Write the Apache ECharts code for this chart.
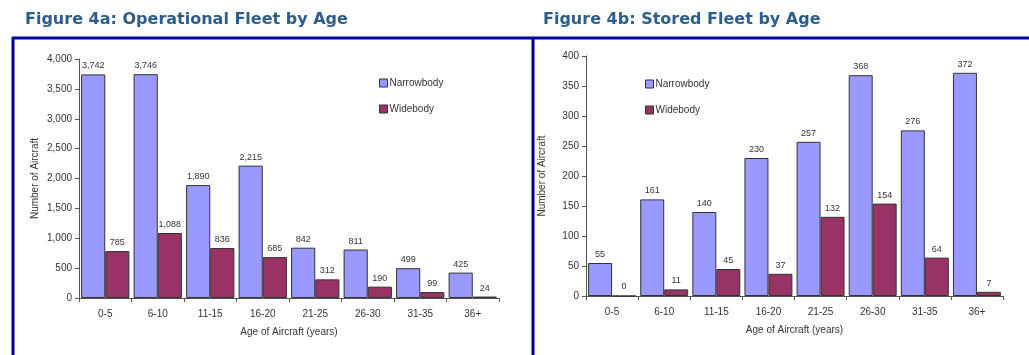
<!DOCTYPE html>
<html>
<head>
<meta charset="utf-8">
<script src="https://cdn.jsdelivr.net/npm/echarts@6/dist/echarts.min.js"></script>
<style>
  html, body { margin: 0; padding: 0; background: #fff; }
  #main { width: 1029px; height: 355px; }
</style>
</head>
<body>
<div id="main"></div>
<script>
// categories (age bands)
var ageBands = ['0-5', '6-10', '11-15', '16-20', '21-25', '26-30', '31-35', '36+'];
// figure 4a - operational fleet
var opNarrow = [3742, 3746, 1890, 2215, 842, 811, 499, 425];
var opWide = [785, 1088, 836, 685, 312, 190, 99, 24];
// figure 4b - stored fleet
var storedNarrow = [55, 161, 140, 230, 257, 368, 276, 372];
var storedWide = [0, 11, 45, 37, 132, 154, 64, 7];

var FONT = '"Liberation Sans", Arial, sans-serif';
var TITLE_FONT = '"DejaVu Sans", Verdana, sans-serif';
var NARROW = '#9999ff';
var WIDE = '#993366';
var FRAME = '#000099';

function fmt(v) {
    return Number(v).toLocaleString('en-US');
}

function catAxis(idx) {
    return {
        type: 'category',
        gridIndex: idx,
        data: ageBands,
        name: 'Age of Aircraft (years)',
        nameLocation: 'middle',
        nameGap: 29,
        nameTextStyle: { fontFamily: FONT, fontSize: 10, color: '#333' },
        axisLine: { lineStyle: { color: '#555', width: 1 } },
        axisTick: { show: true, length: 4, alignWithLabel: false, lineStyle: { color: '#555' } },
        axisLabel: { fontFamily: FONT, fontSize: 10, color: '#333', margin: 11 },
        splitLine: { show: false }
    };
}

function valAxis(idx, max, step, withComma) {
    return {
        type: 'value',
        gridIndex: idx,
        min: 0,
        max: max,
        interval: step,
        name: 'Number of Aircraft',
        nameLocation: 'middle',
        nameGap: 39,
        nameTextStyle: { fontFamily: FONT, fontSize: 10, color: '#333' },
        axisLine: { show: true, lineStyle: { color: '#555', width: 1 } },
        axisTick: { show: true, length: 4, lineStyle: { color: '#555' } },
        axisLabel: {
            fontFamily: FONT, fontSize: 10, color: '#333', margin: 7,
            formatter: function (v) { return withComma ? fmt(v) : String(v); }
        },
        splitLine: { show: false }
    };
}

function barSeries(name, data, color, idx, withComma) {
    return {
        name: name,
        type: 'bar',
        xAxisIndex: idx,
        yAxisIndex: idx,
        data: data,
        barGap: '0%',
        barCategoryGap: '8%',
        itemStyle: { color: color, borderColor: '#333', borderWidth: 1 },
        label: {
            show: true,
            position: 'top',
            distance: 4,
            fontFamily: FONT,
            fontSize: 9,
            color: '#333',
            formatter: function (p) { return withComma ? fmt(p.value) : String(p.value); }
        }
    };
}

function legendAt(left, top, idx) {
    return {
        orient: 'vertical',
        left: left,
        top: top,
        itemWidth: 8,
        itemHeight: 8,
        itemGap: 16,
        icon: 'rect',
        selectedMode: false,
        textStyle: { fontFamily: FONT, fontSize: 10, color: '#333', padding: [0, 0, 0, -3] },
        data: [
            { name: idx === 0 ? 'Narrowbody' : 'Narrowbody ', itemStyle: { color: NARROW, borderColor: '#333', borderWidth: 1 } },
            { name: idx === 0 ? 'Widebody' : 'Widebody ', itemStyle: { color: WIDE, borderColor: '#333', borderWidth: 1 } }
        ]
    };
}

var chart = echarts.init(document.getElementById('main'), null, { renderer: 'canvas' });

chart.setOption({
    backgroundColor: '#ffffff',
    animation: false,
    title: [
        {
            text: 'Figure 4a: Operational Fleet by Age',
            left: 20, top: 7,
            textStyle: { fontFamily: TITLE_FONT, fontSize: 16, fontWeight: 'bold', color: '#2d5d8b' }
        },
        {
            text: 'Figure 4b: Stored Fleet by Age',
            left: 538, top: 7,
            textStyle: { fontFamily: TITLE_FONT, fontSize: 16, fontWeight: 'bold', color: '#2d5d8b' }
        }
    ],
    legend: [legendAt(374, 73, 0), legendAt(640, 74, 1)],
    grid: [
        { left: 79, top: 59, right: 530, bottom: 57, containLabel: false },
        { left: 586, top: 56, right: 26, bottom: 59, containLabel: false }
    ],
    xAxis: [catAxis(0), catAxis(1)],
    yAxis: [valAxis(0, 4000, 500, true), valAxis(1, 400, 50, false)],
    series: [
        barSeries('Narrowbody', opNarrow, NARROW, 0, true),
        barSeries('Widebody', opWide, WIDE, 0, true),
        barSeries('Narrowbody ', storedNarrow, NARROW, 1, false),
        barSeries('Widebody ', storedWide, WIDE, 1, false)
    ],
    graphic: [
        // panel frame: top rule, outer left edge, middle divider
        { type: 'line', shape: { x1: 12, y1: 38, x2: 1029, y2: 38 }, style: { stroke: FRAME, lineWidth: 3 } },
        { type: 'line', shape: { x1: 13, y1: 37, x2: 13, y2: 355 }, style: { stroke: FRAME, lineWidth: 3 } },
        { type: 'line', shape: { x1: 533, y1: 37, x2: 533, y2: 355 }, style: { stroke: FRAME, lineWidth: 3 } }
    ]
});
</script>
</body>
</html>
